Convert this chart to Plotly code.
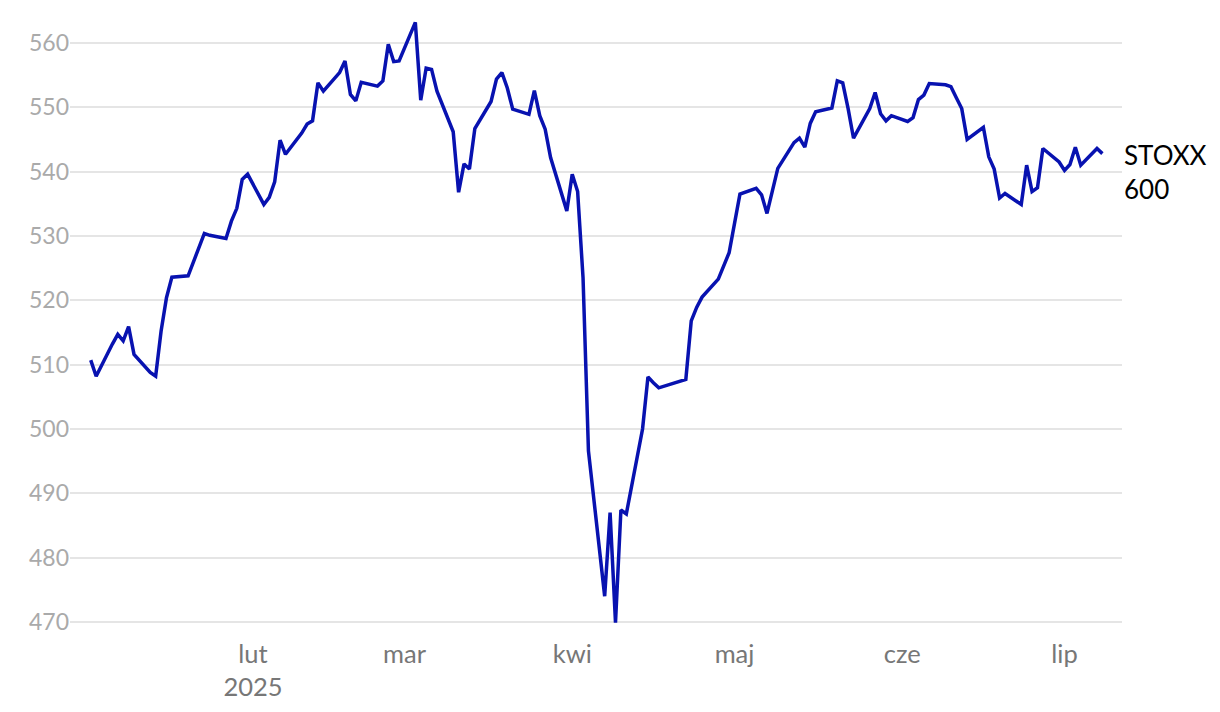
import plotly.graph_objects as go

# STOXX 600 daily close, Jan - Jul 2025
dates = [
    "2025-01-02", "2025-01-03", "2025-01-06", "2025-01-07", "2025-01-08", "2025-01-09", "2025-01-10",
    "2025-01-13", "2025-01-14", "2025-01-15", "2025-01-16", "2025-01-17",
    "2025-01-20", "2025-01-21", "2025-01-22", "2025-01-23", "2025-01-24",
    "2025-01-27", "2025-01-28", "2025-01-29", "2025-01-30", "2025-01-31",
    "2025-02-03", "2025-02-04", "2025-02-05", "2025-02-06", "2025-02-07",
    "2025-02-10", "2025-02-11", "2025-02-12", "2025-02-13", "2025-02-14",
    "2025-02-17", "2025-02-18", "2025-02-19", "2025-02-20", "2025-02-21",
    "2025-02-24", "2025-02-25", "2025-02-26", "2025-02-27", "2025-02-28",
    "2025-03-03", "2025-03-04", "2025-03-05", "2025-03-06", "2025-03-07",
    "2025-03-10", "2025-03-11", "2025-03-12", "2025-03-13", "2025-03-14",
    "2025-03-17", "2025-03-18", "2025-03-19", "2025-03-20", "2025-03-21",
    "2025-03-24", "2025-03-25", "2025-03-26", "2025-03-27", "2025-03-28",
    "2025-03-31", "2025-04-01", "2025-04-02", "2025-04-03", "2025-04-04",
    "2025-04-07", "2025-04-08", "2025-04-09", "2025-04-10", "2025-04-11",
    "2025-04-14", "2025-04-15", "2025-04-16", "2025-04-17",
    "2025-04-22", "2025-04-23", "2025-04-24", "2025-04-25",
    "2025-04-28", "2025-04-29", "2025-04-30", "2025-05-02",
    "2025-05-05", "2025-05-06", "2025-05-07", "2025-05-08", "2025-05-09",
    "2025-05-12", "2025-05-13", "2025-05-14", "2025-05-15", "2025-05-16",
    "2025-05-19", "2025-05-20", "2025-05-21", "2025-05-22", "2025-05-23",
    "2025-05-26", "2025-05-27", "2025-05-28", "2025-05-29", "2025-05-30",
    "2025-06-02", "2025-06-03", "2025-06-04", "2025-06-05", "2025-06-06",
    "2025-06-09", "2025-06-10", "2025-06-11", "2025-06-12", "2025-06-13",
    "2025-06-16", "2025-06-17", "2025-06-18", "2025-06-19", "2025-06-20",
    "2025-06-23", "2025-06-24", "2025-06-25", "2025-06-26", "2025-06-27",
    "2025-06-30", "2025-07-01", "2025-07-02", "2025-07-03", "2025-07-04",
    "2025-07-07", "2025-07-08",
]
close = [
    510.7, 508.2, 513.2, 514.7, 513.7, 515.9, 511.6,
    508.8, 508.2, 515.2, 520.4, 523.6,
    523.8, 526.0, 528.2, 530.4, 530.1,
    529.6, 532.3, 534.3, 538.8, 539.6,
    534.9, 536.0, 538.4, 544.9, 542.7,
    546.0, 547.4, 547.9, 553.8, 552.5,
    555.4, 557.2, 552.0, 551.0, 553.9,
    553.3, 554.1, 559.8, 557.1, 557.2,
    563.2, 551.1, 556.1, 555.9, 552.5,
    546.2, 536.8, 541.2, 540.4, 546.7,
    550.9, 554.4, 555.4, 553.0, 549.7,
    548.9, 552.6, 548.7, 546.6, 542.2,
    533.9, 539.6, 536.9, 523.5, 496.6,
    474.0, 487.0, 469.9, 487.4, 486.8,
    500.0, 508.1, 507.2, 506.4,
    507.7, 516.8, 518.9, 520.5,
    523.3, 525.2, 527.4, 536.5,
    537.4, 536.4, 533.5, 537.0, 540.5,
    544.5, 545.2, 543.8, 547.5, 549.3,
    549.9, 554.1, 553.8, 549.8, 545.2,
    549.8, 552.3, 549.0, 547.9, 548.7,
    547.8, 548.4, 551.2, 551.9, 553.7,
    553.5, 553.2, 551.5, 549.8, 545.0,
    546.9, 542.3, 540.4, 535.9, 536.6,
    534.9, 541.0, 536.9, 537.5, 543.6,
    541.5, 540.2, 541.1, 543.8, 541.0,
    543.6, 542.8,
]

month_ticks = ["2025-02-01", "2025-03-01", "2025-04-01", "2025-05-01", "2025-06-01", "2025-07-01"]
month_labels = ["lut<br>2025", "mar", "kwi", "maj", "cze", "lip"]
y_ticks = [470, 480, 490, 500, 510, 520, 530, 540, 550, 560]

fig = go.Figure()
fig.add_trace(go.Scatter(
    x=dates, y=close, mode="lines",
    line=dict(color="#0812b0", width=3.5),
    hoverinfo="skip", showlegend=False,
))

fig.add_annotation(
    x=1.0, xref="paper", y=540, yref="y",
    text="STOXX<br>600", showarrow=False,
    xanchor="left", yanchor="middle", align="left",
    font=dict(family="Lato", size=26, color="black"),
)

fig.update_xaxes(
    range=["2024-12-29 04:00", "2025-07-11 15:00"],
    tickvals=month_ticks, ticktext=month_labels,
    showgrid=False, zeroline=False, showline=False, ticks="",
    tickfont=dict(family="Lato", size=25.5, color="#777777"),
)
fig.update_yaxes(
    range=[467.82, 564.97],
    tickvals=y_ticks,
    showgrid=True, gridcolor="#e5e5e5", gridwidth=1.5,
    zeroline=False, showline=False, ticks="",
    tickfont=dict(family="Lato", size=23, color="#aaaaaa"),
)

# the page body adds an 8px margin, so the figure is a bit smaller than the window
fig.update_layout(
    width=1212, height=704,
    margin=dict(l=62, r=98, t=3, b=76),
    plot_bgcolor="white", paper_bgcolor="white",
    font=dict(family="Lato"),
)

fig.write_html("out.html")
